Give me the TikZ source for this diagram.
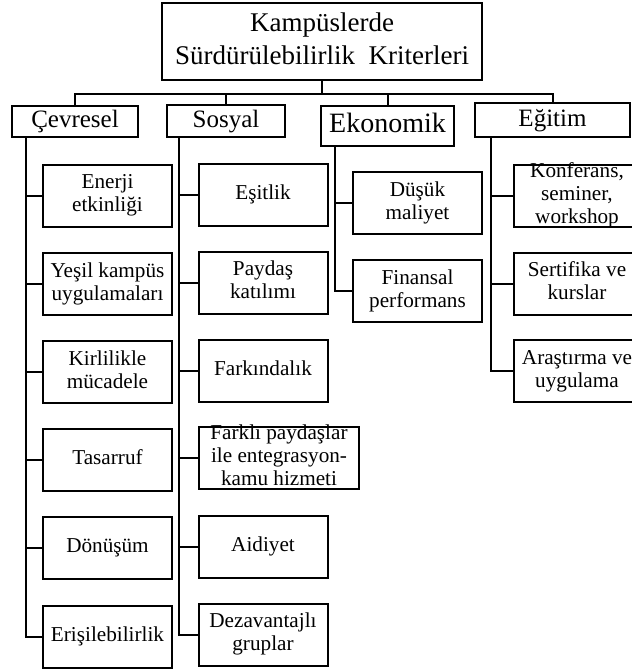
\documentclass[tikz,border=0pt]{standalone}
\usepackage{fontspec}
\setmainfont{Liberation Serif}
\newcommand\ctr[1]{\vbox to 0pt{\vss\hbox{\begin{tabular}{@{}c@{}}#1\end{tabular}}\vss}}
\begin{document}
\begin{tikzpicture}[x=1pt,y=-1pt,
  box/.style 2 args={draw, line width=2pt, inner sep=0pt, minimum width=#1pt, minimum height=#2pt},
  big/.style={font=\fontsize{27}{33}\selectfont},
  cat/.style={font=\fontsize{25}{30}\selectfont},
  leaf/.style={box={129}{62}, font=\fontsize{21.2}{23}\selectfont},
  conn/.style={line width=2pt}]
\useasboundingbox (0,0) rectangle (632,670);
\clip (0,0) rectangle (632,670);

% root
\node[box={320}{77}, big] (top) at (322,41.5) {\ctr{Kampüslerde\\Sürdürülebilirlik\ \ Kriterleri}};

% categories
\node[box={126}{31}, cat] (cev) at (75,121.5) {\ctr{Çevresel}};
\node[box={118}{32}, cat] (sos) at (226,121) {\ctr{Sosyal}};
\node[box={133}{40}, cat, font=\fontsize{28}{30}\selectfont] (eko) at (387.5,126) {\ctr{Ekonomik}};
\node[box={155}{34}, cat] (egi) at (552.5,120) {\ctr{Eğitim}};

% Çevresel children
\node[leaf] (c1) at (107.5,195.5) {\ctr{Enerji\\etkinliği}};
\node[leaf] (c2) at (107.5,284) {\ctr{Yeşil kampüs\\uygulamaları}};
\node[leaf] (c3) at (107.5,372) {\ctr{Kirlilikle\\mücadele}};
\node[leaf] (c4) at (107.5,460) {\ctr{Tasarruf}};
\node[leaf] (c5) at (107.5,548) {\ctr{Dönüşüm}};
\node[leaf] (c6) at (107.5,637) {\ctr{Erişilebilirlik}};

% Sosyal children
\node[leaf] (s1) at (263,194.5) {\ctr{Eşitlik}};
\node[leaf] (s2) at (263,282.5) {\ctr{Paydaş\\katılımı}};
\node[leaf] (s3) at (263,370.5) {\ctr{Farkındalık}};
\node[leaf, minimum width=160pt] (s4) at (279,458) {\ctr{Farklı paydaşlar\\ile entegrasyon-\\kamu hizmeti}};
\node[leaf] (s5) at (263,547) {\ctr{Aidiyet}};
\node[leaf] (s6) at (263,634.5) {\ctr{Dezavantajlı\\gruplar}};

% Ekonomik children
\node[leaf] (e1) at (417.5,203) {\ctr{Düşük\\maliyet}};
\node[leaf] (e2) at (417.5,291) {\ctr{Finansal\\performans}};

% Eğitim children
\node[leaf, minimum width=126pt] (g1) at (577,196) {\ctr{Konferans,\\seminer,\\workshop}};
\node[leaf, minimum width=126pt] (g2) at (577,283.5) {\ctr{Sertifika ve\\kurslar}};
\node[leaf, minimum width=126pt] (g3) at (577,371) {\ctr{Araştırma ve\\uygulama}};

% root to categories
\draw[conn] (top.south) -- ++(0,13) coordinate (bar);
\draw[conn] (cev.north) |- (bar) -| (egi.north);
\draw[conn] (sos.north) -- (sos.north |- bar);
\draw[conn] (eko.north) -- (eko.north |- bar);

% trunks
\coordinate (cevt) at (26,137);
\coordinate (sost) at (179,137);
\coordinate (ekot) at (335,146);
\coordinate (egit) at (491,137);

\draw[conn] (cevt) |- (c6.west);
\foreach \n in {c1,c2,c3,c4,c5} \draw[conn] (\n.west) -- (\n.west -| cevt);
\draw[conn] (sost) |- (s6.west);
\foreach \n in {s1,s2,s3,s4,s5} \draw[conn] (\n.west) -- (\n.west -| sost);
\draw[conn] (ekot) |- (e2.west);
\draw[conn] (e1.west) -- (e1.west -| ekot);
\draw[conn] (egit) |- (g3.west);
\foreach \n in {g1,g2} \draw[conn] (\n.west) -- (\n.west -| egit);
\end{tikzpicture}
\end{document}
